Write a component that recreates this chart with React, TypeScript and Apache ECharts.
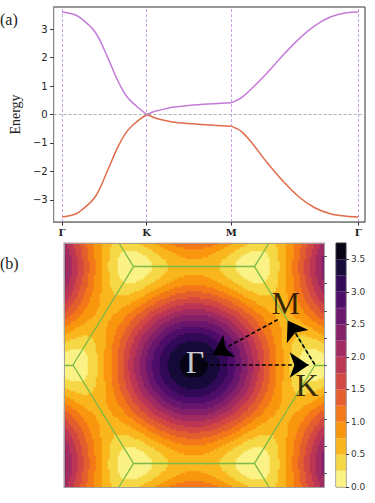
import React, { useEffect, useRef } from "react";
import * as echarts from "echarts";

// ---------- (a) band structure along Γ–K–M–Γ ----------
const PATH_TICKS = [0, 1, 2, 3.5];
const PATH_LABELS = ["Γ", "K", "M", "Γ"];
const ENERGY_TICKS = [-3, -2, -1, 0, 1, 2, 3];

const K_PATH = [0, 0.1, 0.2, 0.39, 0.54, 0.65, 0.76, 0.88, 1.0, 1.11, 1.22, 1.33, 1.6, 1.8, 2.0, 2.12, 2.23, 2.42, 2.61, 2.8, 2.98, 3.17, 3.36, 3.5];
const E_UPPER = [3.6, 3.55, 3.43, 2.9, 2.0, 1.24, 0.65, 0.29, 0, 0.12, 0.2, 0.26, 0.34, 0.38, 0.41, 0.59, 0.88, 1.45, 2.08, 2.66, 3.11, 3.43, 3.58, 3.6];
const E_LOWER = [-3.6, -3.55, -3.43, -2.9, -1.95, -1.2, -0.62, -0.26, 0, -0.13, -0.21, -0.27, -0.34, -0.38, -0.41, -0.6, -0.95, -1.68, -2.34, -2.9, -3.27, -3.49, -3.58, -3.6];

// ---------- (b) energy map over the Brillouin zone ----------
// value = E_GAMMA * (|1 + e^{ik·a1} + e^{ik·a2}| / 3)^EXPONENT
// E_GAMMA read from the centre / colour bar; EXPONENT fitted to the ring spacing in the picture
const E_GAMMA = 3.6;
const EXPONENT = 1.5;
const A1 = [1, 0];
const A2 = [0.5, Math.sqrt(3) / 2];
const K_EXTENT = 4.5;
const NX = 130;
const NY = 122;
const LEVELS = [0, 0.25, 0.5, 0.75, 1, 1.25, 1.5, 1.75, 2, 2.25, 2.5, 2.75, 3, 3.25, 3.5, 3.75];
const COLORBAR_TICKS = [0, 0.5, 1, 1.5, 2, 2.5, 3, 3.5];
const BOX_TICKS = [-4, -3, -2, -1, 0, 1, 2, 3, 4];
const POINT_NAMES = ["Γ", "M", "K"];

const LEVEL_COLORS = [
  "#faf285", "#f6d746", "#fab61e", "#f9960f", "#f37819",
  "#e45e2f", "#d24843", "#bc3754", "#a12c61", "#852169",
  "#6a176e", "#4f0e6a", "#330a58", "#160b39", "#070416",
];

function energy(kx: number, ky: number) {
  const t1 = kx * A1[0] + ky * A1[1];
  const t2 = kx * A2[0] + ky * A2[1];
  const re = 1 + Math.cos(t1) + Math.cos(t2);
  const im = Math.sin(t1) + Math.sin(t2);
  return E_GAMMA * Math.pow(Math.sqrt(re * re + im * im) / 3, EXPONENT);
}

function buildOption() {
  const UP = "#c47bd8";
  const DN = "#e06c4a";

  const seg = (E: number[], s: number) => {
    const a = PATH_TICKS[s], b = PATH_TICKS[s + 1];
    const out: number[][] = [];
    K_PATH.forEach((k, i) => { if (k >= a - 1e-9 && k <= b + 1e-9) out.push([k, E[i]]); });
    return out;
  };
  const bandSeries: any[] = [];
  for (let s = 0; s < 3; s++) {
    for (const [E, c] of [[E_UPPER, UP], [E_LOWER, DN]] as [number[], string][]) {
      bandSeries.push({
        type: "line", xAxisIndex: 0, yAxisIndex: 0, data: seg(E, s),
        showSymbol: false, smooth: 0.35, silent: true,
        lineStyle: { color: c, width: 1.5 }, z: 3,
      });
    }
  }
  bandSeries[0].markLine = {
    silent: true, symbol: "none", label: { show: false }, animation: false,
    data: [
      ...PATH_TICKS.map((v) => ({ xAxis: v, lineStyle: { color: "#b98bd9", width: 0.8, type: [3, 2] } })),
      { yAxis: 0, lineStyle: { color: "#9a9a9a", width: 0.8, type: [3, 2] } },
    ],
  };

  const heat: number[][] = [];
  for (let i = 0; i < NX; i++) {
    const kx = -K_EXTENT + ((i + 0.5) * 2 * K_EXTENT) / NX;
    for (let j = 0; j < NY; j++) {
      const ky = -K_EXTENT + ((j + 0.5) * 2 * K_EXTENT) / NY;
      heat.push([i, j, energy(kx, ky)]);
    }
  }

  const R = (4 * Math.PI) / 3;
  const verts = [0, 60, 120, 180, 240, 300].map((a) => [R * Math.cos((a * Math.PI) / 180), R * Math.sin((a * Math.PI) / 180)]);
  const edges: any[] = [];
  for (let i = 0; i < 6; i++) edges.push({ coords: [verts[i], verts[(i + 1) % 6]] });
  for (let i = 0; i < 6; i++) {
    const ang = (i * 60 * Math.PI) / 180;
    const d = [Math.cos(ang), Math.sin(ang)];
    const p = verts[i];
    let t = R;
    for (let c = 0; c < 2; c++) {
      if (Math.abs(d[c]) > 1e-9) t = Math.min(t, ((d[c] > 0 ? K_EXTENT : -K_EXTENT) - p[c]) / d[c]);
    }
    edges.push({ coords: [p, [p[0] + t * d[0], p[1] + t * d[1]]] });
  }
  const G = [0, 0];
  const K = verts[0];
  const M = [(verts[0][0] + verts[1][0]) / 2, (verts[0][1] + verts[1][1]) / 2];
  const shrink = (p: number[], q: number[], s0: number, s1: number) => {
    const dx = q[0] - p[0], dy = q[1] - p[1];
    const L = Math.hypot(dx, dy);
    const ux = dx / L, uy = dy / L;
    return [[p[0] + s0 * ux, p[1] + s0 * uy], [q[0] - s1 * ux, q[1] - s1 * uy]];
  };
  const arrows = [
    { coords: shrink(G, K, 0.1, 0.22) },
    { coords: shrink(K, M, 0.02, 0.2) },
    { coords: shrink(M, G, 0.28, 0.75) },
  ];

  const serifBig = { fontFamily: "Liberation Serif", fontSize: 32 };

  const hmIndex = bandSeries.length;
  const series: any[] = [
    ...bandSeries,
    {
      type: "heatmap", xAxisIndex: 1, yAxisIndex: 1, data: heat, progressive: 0,
      silent: true, emphasis: { disabled: true }, itemStyle: { borderWidth: 0 }, z: 1,
    },
    {
      type: "lines", coordinateSystem: "cartesian2d", xAxisIndex: 2, yAxisIndex: 2,
      data: edges, silent: true, symbol: "none",
      lineStyle: { color: "#7cb947", width: 1.3, opacity: 1 }, z: 3,
    },
    {
      type: "lines", coordinateSystem: "cartesian2d", xAxisIndex: 2, yAxisIndex: 2,
      data: arrows, silent: true, symbol: ["none", "arrow"], symbolSize: 19,
      lineStyle: { color: "#000", width: 1.6, type: [4, 2.5], opacity: 1 }, z: 4,
    },
    {
      type: "scatter", xAxisIndex: 2, yAxisIndex: 2, silent: true, symbolSize: 1,
      itemStyle: { color: "transparent" }, z: 6,
      label: { show: true, position: "inside", formatter: "{b}", ...serifBig },
      data: [
        { name: POINT_NAMES[0], value: G, label: { color: "#ffffff", offset: [1, -3] } },
        { name: POINT_NAMES[1], value: M, label: { color: "#000000", offset: [1, -13] } },
        { name: POINT_NAMES[2], value: K, label: { color: "#000000", offset: [-8, 20] } },
      ],
    },
    ...LEVEL_COLORS.map((c, k) => ({
      type: "bar", xAxisIndex: 3, yAxisIndex: 3, stack: "cb", barWidth: "100%", silent: true,
      data: [LEVELS[k + 1] - LEVELS[k]],
      itemStyle: { color: c, borderColor: c, borderWidth: 0.4 },
    })),
  ];

  const pieces = LEVEL_COLORS.map((c, k) =>
    k === LEVEL_COLORS.length - 1
      ? { gte: LEVELS[k], lte: 100, color: c }
      : { gte: LEVELS[k], lt: LEVELS[k + 1], color: c }
  );

  const hidden = { show: false };
  const boxLine = { show: true, onZero: false, lineStyle: { color: "#a0a0a0", width: 1 } };

  return {
    animation: false,
    backgroundColor: "#ffffff",
    title: [
      { text: "(a)", left: 0, top: 11, padding: 0, textStyle: { fontFamily: "Liberation Serif", fontSize: 16, fontWeight: "normal", color: "#222" } },
      { text: "(b)", left: 0, top: 255, padding: 0, textStyle: { fontFamily: "Liberation Serif", fontSize: 16, fontWeight: "normal", color: "#222" } },
    ],
    grid: [
      { left: 40, top: 7, width: 325, height: 215, show: true, borderColor: "#333", borderWidth: 1, backgroundColor: "transparent" },
      { left: 64, top: 243, width: 260, height: 244 },
      { left: 64, top: 243, width: 260, height: 244 },
      { left: 336, top: 243, width: 10, height: 244, show: true, borderColor: "#333", borderWidth: 0.8, backgroundColor: "transparent" },
    ],
    visualMap: { type: "piecewise", show: false, seriesIndex: hmIndex, dimension: 2, pieces },
    xAxis: [
      {
        gridIndex: 0, type: "value", min: -0.1, max: 3.58,
        axisLine: { show: true, onZero: false, lineStyle: { color: "#888" } },
        axisTick: { show: true, customValues: PATH_TICKS, length: 3.5, lineStyle: { color: "#333" } },
        axisLabel: {
          customValues: PATH_TICKS,
          formatter: (v: number) => PATH_LABELS[PATH_TICKS.indexOf(v)] ?? "",
          fontFamily: "DejaVu Serif", fontWeight: "bold", fontSize: 10, color: "#222", margin: 5,
        },
        splitLine: hidden,
      },
      { gridIndex: 1, type: "category", data: Array.from({ length: NX }, (_, i) => i), show: false },
      {
        gridIndex: 2, type: "value", min: -K_EXTENT, max: K_EXTENT, position: "bottom", z: 8,
        axisLine: boxLine, axisTick: hidden, axisLabel: hidden, splitLine: hidden,
      },
      { gridIndex: 3, type: "category", data: ["cb"], show: false },
      {
        gridIndex: 2, type: "value", min: -K_EXTENT, max: K_EXTENT, position: "top", z: 8,
        axisLine: boxLine, axisTick: hidden, axisLabel: hidden, splitLine: hidden,
      },
    ],
    yAxis: [
      {
        gridIndex: 0, type: "value", min: -3.78, max: 3.78,
        name: "Energy", nameLocation: "middle", nameGap: 26, nameRotate: 90,
        nameTextStyle: { fontFamily: "Liberation Serif", fontSize: 14, color: "#222" },
        axisLine: { show: true, onZero: false, lineStyle: { color: "#888" } },
        axisTick: { show: true, customValues: ENERGY_TICKS, length: 3.5, lineStyle: { color: "#333" } },
        axisLabel: {
          customValues: ENERGY_TICKS,
          formatter: (v: number) => (v < 0 ? "\u2212" + Math.abs(v) : String(v)),
          fontFamily: "DejaVu Sans", fontSize: 10, color: "#222", margin: 6,
        },
        splitLine: hidden,
      },
      { gridIndex: 1, type: "category", data: Array.from({ length: NY }, (_, i) => i), show: false },
      {
        gridIndex: 2, type: "value", min: -K_EXTENT, max: K_EXTENT, position: "right", z: 8,
        axisLine: boxLine,
        axisTick: { show: true, customValues: BOX_TICKS, length: 3, lineStyle: { color: "#555" } },
        axisLabel: { show: false, customValues: BOX_TICKS },
        splitLine: hidden,
      },
      {
        gridIndex: 3, type: "value", min: 0, max: LEVELS[LEVELS.length - 1], position: "right",
        axisLine: { show: false, onZero: false },
        axisTick: { show: true, customValues: COLORBAR_TICKS, length: 3, lineStyle: { color: "#333" } },
        axisLabel: {
          customValues: COLORBAR_TICKS, formatter: (v: number) => v.toFixed(1),
          fontFamily: "DejaVu Sans", fontSize: 9, color: "#333", margin: 5,
        },
        splitLine: hidden,
      },
      {
        gridIndex: 2, type: "value", min: -K_EXTENT, max: K_EXTENT, position: "left", z: 8,
        axisLine: boxLine, axisTick: hidden, axisLabel: hidden, splitLine: hidden,
      },
    ],
    series,
  };
}

export default function App() {
  const ref = useRef<HTMLDivElement>(null);
  useEffect(() => {
    if (!ref.current) return;
    const chart = echarts.init(ref.current, null, { renderer: "svg" });
    chart.setOption(buildOption() as any);
    return () => chart.dispose();
  }, []);
  return (
    <div
      ref={ref}
      style={{ position: "absolute", left: 0, top: 0, width: 375, height: 503, background: "#fff" }}
    />
  );
}
